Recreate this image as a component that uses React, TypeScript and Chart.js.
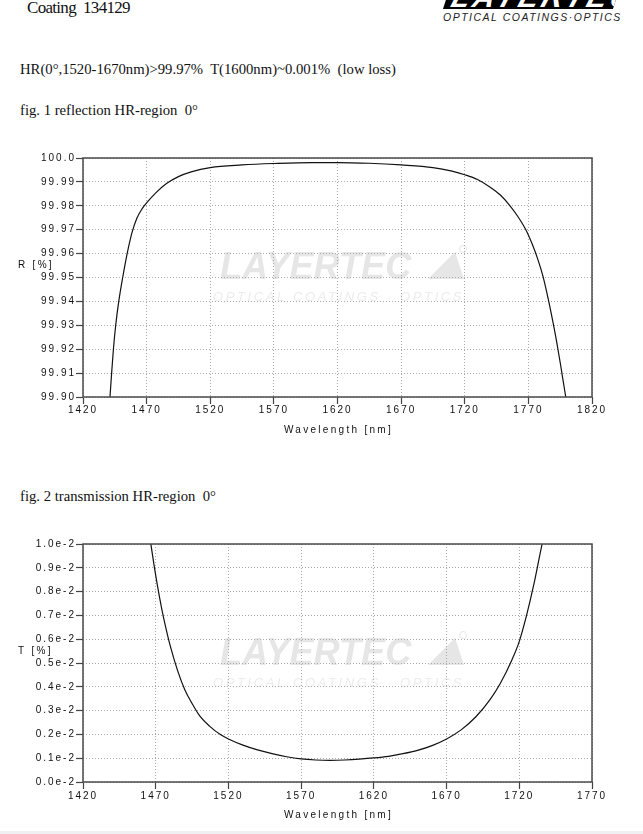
import React, { useEffect, useRef } from "react";
import { Chart, registerables } from "chart.js";

Chart.register(...registerables);

// ---- Data: fig. 1 reflection (R in %) ----
const reflWavelength = [
  1440.8, 1441.2, 1442.5, 1443.9, 1445.7, 1448.1, 1451.2, 1454.7, 1458.6, 1462.5, 1466.5, 1470.5,
  1477, 1485.6, 1495, 1505, 1520, 1545, 1570, 1600, 1620, 1645, 1670, 1695, 1710,
  1720, 1730, 1740, 1748, 1755.6, 1762, 1768, 1773, 1777.5, 1781.5, 1785.2, 1788.7, 1792.1,
  1795.3, 1798.6, 1800,
];
const reflValue = [
  99.897, 99.9, 99.91, 99.92, 99.93, 99.94, 99.95, 99.96, 99.969, 99.975, 99.9788, 99.9815,
  99.9853, 99.9893, 99.9922, 99.9942, 99.996, 99.9971, 99.9977, 99.9981, 99.9981, 99.9978, 99.9971, 99.996, 99.9945,
  99.993, 99.991, 99.9878, 99.9845, 99.98, 99.9753, 99.97, 99.964, 99.9575, 99.9505, 99.942, 99.933, 99.9235,
  99.9135, 99.9025, 99.898,
];

// ---- Data: fig. 2 transmission (T in %) ----
const transWavelength = [
  1465, 1467, 1469, 1471, 1474, 1477, 1480, 1485, 1490, 1495, 1500, 1507, 1515, 1520,
  1530, 1540, 1550, 1560, 1570, 1580, 1590, 1600, 1610, 1620, 1630, 1640, 1650, 1660,
  1670, 1680, 1690, 1700, 1707, 1715, 1720, 1725, 1730, 1734, 1737, 1739,
];
const transValue = [
  0.01075, 0.00986, 0.00905, 0.00831, 0.00732, 0.00647, 0.00572, 0.00469, 0.00388, 0.0033, 0.0028, 0.00235, 0.00197, 0.00181,
  0.00155, 0.00135, 0.00119, 0.00106, 0.00097, 0.000925, 0.00091, 0.000925, 0.00096, 0.00101, 0.00108, 0.00119, 0.00133, 0.00153,
  0.00181, 0.00219, 0.00273, 0.00347, 0.00415, 0.00514, 0.00591, 0.007, 0.0083, 0.0095, 0.0104, 0.0111,
];

// ---- Ticks ----
const reflXTicks = [1420, 1470, 1520, 1570, 1620, 1670, 1720, 1770, 1820];
const reflYTicks = [99.9, 99.91, 99.92, 99.93, 99.94, 99.95, 99.96, 99.97, 99.98, 99.99, 100.0];
const reflYLabels = ["99.90", "99.91", "99.92", "99.93", "99.94", "99.95", "99.96", "99.97", "99.98", "99.99", "100.0"];

const transXTicks = [1420, 1470, 1520, 1570, 1620, 1670, 1720, 1770];
const transYTicks = [0, 0.001, 0.002, 0.003, 0.004, 0.005, 0.006, 0.007, 0.008, 0.009, 0.01];
const transYLabels = ["0.0e-2", "0.1e-2", "0.2e-2", "0.3e-2", "0.4e-2", "0.5e-2", "0.6e-2", "0.7e-2", "0.8e-2", "0.9e-2", "1.0e-2"];

const SANS = "'Liberation Sans', Arial, Helvetica, sans-serif";
const SERIF = "'Liberation Serif', 'Times New Roman', Times, serif";

const decorPlugin = {
  id: "decor",
  beforeDraw(chart: any) {
    const { ctx, chartArea: ca } = chart;
    ctx.save();
    // watermark
    ctx.fillStyle = "#e6e6e6";
    ctx.letterSpacing = "0px";
    ctx.font = `italic bold 38px ${SANS}`;
    ctx.textBaseline = "alphabetic";
    ctx.textAlign = "left";
    const x0 = ca.left + 137;
    const yb = ca.top + 121;
    ctx.save();
    ctx.translate(x0, yb);
    ctx.scale(0.95, 1);
    ctx.fillText("LAYERTEC", 0, 0);
    ctx.restore();
    ctx.beginPath();
    ctx.moveTo(ca.left + 345, yb);
    ctx.lineTo(ca.left + 372, yb - 27);
    ctx.lineTo(ca.left + 381, yb);
    ctx.closePath();
    ctx.fill();
    ctx.strokeStyle = "#e6e6e6";
    ctx.lineWidth = 1;
    ctx.beginPath();
    ctx.arc(ca.left + 380, yb - 30, 3.5, 0, Math.PI * 2);
    ctx.stroke();
    ctx.fillStyle = "#ececec";
    ctx.font = `italic 13px ${SANS}`;
    ctx.letterSpacing = "2.6px";
    ctx.fillText("OPTICAL COATINGS · OPTICS", ca.left + 130, ca.top + 143);
    ctx.restore();
    ctx.letterSpacing = "2px";
  },
  afterDraw(chart: any, _args: any, opts: any) {
    const { ctx, chartArea: ca } = chart;
    ctx.save();
    ctx.strokeStyle = "#4a4a4a";
    ctx.lineWidth = 1.5;
    ctx.setLineDash([]);
    ctx.strokeRect(ca.left, ca.top, ca.right - ca.left, ca.bottom - ca.top);
    ctx.fillStyle = "#111";
    ctx.font = `10px ${SANS}`;
    ctx.letterSpacing = "2.3px";
    ctx.textBaseline = "middle";
    ctx.textAlign = "left";
    ctx.fillText(opts.yTitle, 18, ca.top + 107);
    ctx.textAlign = "center";
    ctx.fillText("Wavelength [nm]", (ca.left + ca.right) / 2 + 1, ca.bottom + 33.5);
    ctx.restore();
    ctx.letterSpacing = "0px";
  },
};

function buildConfig(cfg: any) {
  const { wl, val, xTicks, yTicks, yLabels, yTitle, padTop, padRight, xPad } = cfg;
  const gridOpts = {
    color: "#a9a9a9",
    lineWidth: 1,
    borderDash: [1, 2],
    tickColor: "#444444",
    tickLength: 7,
    tickWidth: 1.2,
    tickBorderDash: [],
  };
  return {
    type: "line",
    data: {
      datasets: [
        {
          data: wl.map((x: number, i: number) => ({ x, y: val[i] })),
          borderColor: "#111111",
          borderWidth: 1.2,
          pointRadius: 0,
          fill: false,
          cubicInterpolationMode: "monotone",
          clip: 0,
        },
      ],
    },
    options: {
      animation: false,
      responsive: false,
      maintainAspectRatio: false,
      events: [],
      layout: { padding: { top: padTop, right: padRight, left: 0, bottom: 0 } },
      plugins: {
        legend: { display: false },
        tooltip: { enabled: false },
        title: { display: false },
        decor: { yTitle },
      },
      scales: {
        x: {
          type: "linear",
          min: xTicks[0],
          max: xTicks[xTicks.length - 1],
          afterBuildTicks: (s: any) => {
            s.ticks = xTicks.map((v: number) => ({ value: v }));
          },
          afterFit: (s: any) => {
            s.height = 48;
          },
          ticks: {
            autoSkip: false,
            maxRotation: 0,
            minRotation: 0,
            padding: xPad,
            color: "#111",
            font: { family: SANS, size: 10 },
            callback: (v: any) => String(v),
          },
          grid: gridOpts,
          border: { display: false, dash: [1, 2] },
        },
        y: {
          type: "linear",
          min: yTicks[0],
          max: yTicks[yTicks.length - 1],
          afterBuildTicks: (s: any) => {
            s.ticks = yTicks.map((v: number) => ({ value: v }));
          },
          afterFit: (s: any) => {
            s.width = 83;
          },
          ticks: {
            autoSkip: false,
            padding: 0,
            color: "#111",
            font: { family: SANS, size: 10 },
            callback: (_v: any, i: number) => yLabels[i],
          },
          grid: gridOpts,
          border: { display: false, dash: [1, 2] },
        },
      },
    },
    plugins: [decorPlugin],
  };
}

function ChartCanvas({ cfg, top, height }: any) {
  const ref = useRef<HTMLCanvasElement | null>(null);
  useEffect(() => {
    if (!ref.current) return;
    const chart = new Chart(ref.current, buildConfig(cfg) as any);
    return () => chart.destroy();
  }, []);
  return (
    <canvas
      ref={ref}
      width={643}
      height={height}
      style={{ position: "absolute", left: 0, top, width: 643, height }}
    />
  );
}

const textStyle = (top: number, left: number, size: number): React.CSSProperties => ({
  position: "absolute",
  top,
  left,
  fontFamily: SERIF,
  fontSize: size,
  lineHeight: 1,
  whiteSpace: "pre",
  color: "#111",
});

export default function App() {
  return (
    <div
      style={{
        position: "absolute",
        left: 0,
        top: 0,
        width: 643,
        height: 834,
        background: "#fff",
        overflow: "hidden",
      }}
    >
      <div style={{ ...textStyle(-0.9, 27, 17), letterSpacing: "-0.7px" }}>Coating  134129</div>

      {/* header logo */}
      <div
        style={{
          position: "absolute",
          left: 448,
          top: -22,
          width: 170,
          height: 31,
          background: "#000",
          transform: "skewX(-18deg)",
          overflow: "hidden",
        }}
      >
        <span
          style={{
            position: "absolute",
            left: 6,
            top: 4,
            fontFamily: SANS,
            fontWeight: "bold",
            fontStyle: "italic",
            fontSize: 30,
            lineHeight: "30px",
            letterSpacing: "3px",
            color: "#fff",
            whiteSpace: "pre",
          }}
        >
          LAYERTEC
        </span>
      </div>
      <div
        style={{
          position: "absolute",
          left: 443,
          top: 11.8,
          fontFamily: SANS,
          fontStyle: "italic",
          fontSize: 10.5,
          lineHeight: 1,
          letterSpacing: "1.5px",
          color: "#222",
          whiteSpace: "pre",
        }}
      >
        OPTICAL COATINGS·OPTICS
      </div>

      <div style={textStyle(61.7, 20, 14.7)}>HR(0°,1520-1670nm)&gt;99.97%  T(1600nm)~0.001%  (low loss)</div>
      <div style={textStyle(102.7, 20, 14.7)}>fig. 1 reflection HR-region  0°</div>
      <div style={textStyle(488.7, 20, 14.7)}>fig. 2 transmission HR-region  0°</div>

      <ChartCanvas
        top={140}
        height={305}
        cfg={{
          wl: reflWavelength,
          val: reflValue,
          xTicks: reflXTicks,
          yTicks: reflYTicks,
          yLabels: reflYLabels,
          yTitle: "R [%]",
          padTop: 18,
          padRight: 51,
          xPad: 0,
        }}
      />
      <ChartCanvas
        top={530}
        height={300}
        cfg={{
          wl: transWavelength,
          val: transValue,
          xTicks: transXTicks,
          yTicks: transYTicks,
          yLabels: transYLabels,
          yTitle: "T [%]",
          padTop: 14,
          padRight: 51,
          xPad: 1,
        }}
      />
      <div style={{ position: "absolute", left: 0, top: 831, width: 643, height: 3, background: "#f0f0f3" }} />
    </div>
  );
}
